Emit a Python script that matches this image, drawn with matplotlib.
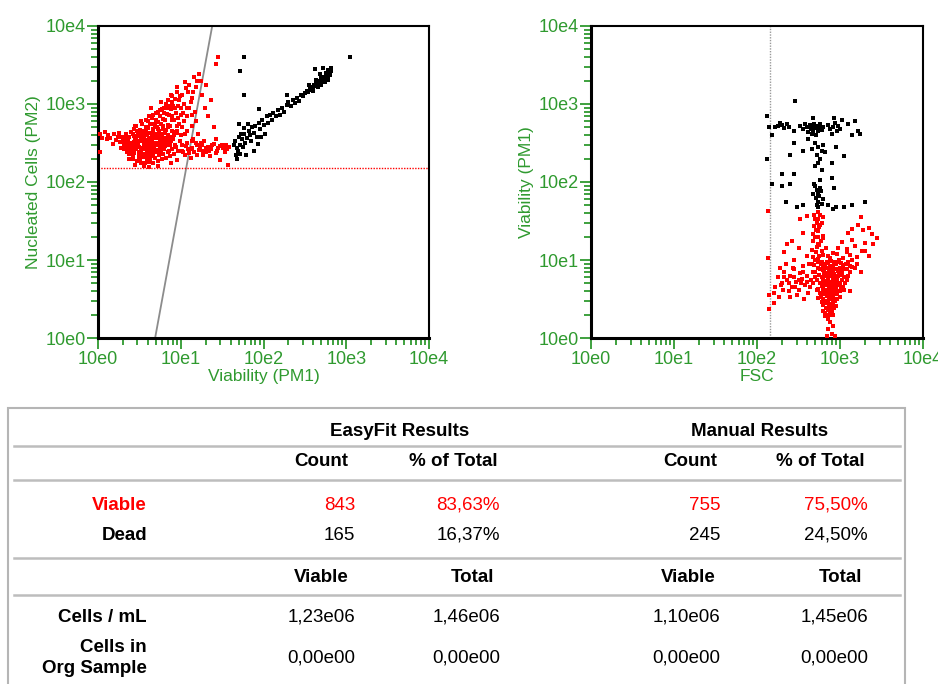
import numpy as np
import matplotlib
matplotlib.use("Agg")
import matplotlib.pyplot as plt
from matplotlib.ticker import LogLocator, NullFormatter
from matplotlib.patches import Rectangle
from matplotlib.lines import Line2D

plt.rcParams['font.family'] = ['Liberation Sans', 'DejaVu Sans']

GREEN = '#2f9a2f'
RED = '#ff0000'

# events are stored as log10 of the channel values: (PM1, PM2) for the first plot
left_viable = [
    (0.02, 2.62), (0.05, 2.57), (0.08, 2.64), (0.12, 2.60), (0.15, 2.56), (0.19, 2.61), (0.22, 2.54),
    (0.25, 2.63), (0.27, 2.51), (0.03, 2.38), (0.18, 2.49), (0.28, 2.44), (0.24, 2.58), (0.11, 2.55),
    (0.31, 2.42), (0.33, 2.50), (0.30, 2.56), (0.34, 2.61), (0.32, 2.47), (0.35, 2.39), (0.31, 2.53),
    (0.37, 2.36), (0.39, 2.44), (0.36, 2.52), (0.38, 2.58), (0.40, 2.64), (0.37, 2.49), (0.39, 2.41),
    (0.36, 2.55), (0.38, 2.30), (0.42, 2.33), (0.44, 2.40), (0.41, 2.46), (0.43, 2.51), (0.45, 2.57),
    (0.42, 2.62), (0.44, 2.68), (0.41, 2.44), (0.43, 2.37), (0.45, 2.54), (0.42, 2.29), (0.47, 2.27),
    (0.49, 2.35), (0.46, 2.42), (0.48, 2.48), (0.50, 2.53), (0.47, 2.59), (0.49, 2.65), (0.46, 2.72),
    (0.48, 2.45), (0.50, 2.39), (0.46, 2.56), (0.49, 2.31), (0.52, 2.25), (0.54, 2.32), (0.51, 2.38),
    (0.53, 2.44), (0.55, 2.50), (0.52, 2.55), (0.54, 2.61), (0.51, 2.67), (0.53, 2.74), (0.55, 2.47),
    (0.52, 2.41), (0.54, 2.58), (0.51, 2.29), (0.53, 2.36), (0.57, 2.24), (0.59, 2.30), (0.56, 2.36),
    (0.58, 2.43), (0.60, 2.49), (0.57, 2.54), (0.59, 2.60), (0.56, 2.66), (0.58, 2.71), (0.60, 2.78),
    (0.57, 2.46), (0.59, 2.39), (0.56, 2.57), (0.58, 2.33), (0.62, 2.26), (0.64, 2.33), (0.61, 2.40),
    (0.63, 2.45), (0.65, 2.51), (0.62, 2.57), (0.64, 2.63), (0.61, 2.69), (0.63, 2.75), (0.65, 2.82),
    (0.62, 2.48), (0.64, 2.37), (0.61, 2.54), (0.63, 2.29), (0.65, 2.60), (0.67, 2.25), (0.69, 2.31),
    (0.66, 2.38), (0.68, 2.44), (0.70, 2.50), (0.67, 2.56), (0.69, 2.62), (0.66, 2.68), (0.68, 2.74),
    (0.70, 2.80), (0.67, 2.86), (0.69, 2.47), (0.66, 2.35), (0.68, 2.59), (0.72, 2.27), (0.74, 2.34),
    (0.71, 2.41), (0.73, 2.47), (0.75, 2.53), (0.72, 2.59), (0.74, 2.65), (0.71, 2.71), (0.73, 2.77),
    (0.75, 2.84), (0.72, 2.90), (0.74, 2.50), (0.71, 2.38), (0.73, 2.62), (0.77, 2.29), (0.79, 2.36),
    (0.76, 2.43), (0.78, 2.49), (0.80, 2.56), (0.77, 2.62), (0.79, 2.68), (0.76, 2.75), (0.78, 2.81),
    (0.80, 2.88), (0.77, 2.94), (0.79, 2.52), (0.76, 2.40), (0.82, 2.31), (0.84, 2.39), (0.81, 2.46),
    (0.83, 2.53), (0.85, 2.60), (0.82, 2.67), (0.84, 2.73), (0.81, 2.80), (0.83, 2.87), (0.85, 2.95),
    (0.82, 3.00), (0.84, 2.56), (0.87, 2.33), (0.89, 2.42), (0.86, 2.50), (0.88, 2.58), (0.90, 2.65),
    (0.87, 2.72), (0.89, 2.79), (0.86, 2.86), (0.88, 2.93), (0.90, 3.02), (0.87, 2.47), (0.92, 2.36),
    (0.94, 2.45), (0.91, 2.55), (0.93, 2.64), (0.95, 2.72), (0.92, 2.80), (0.94, 2.88), (0.91, 2.97),
    (0.93, 3.06), (0.97, 2.40), (0.99, 2.52), (0.96, 2.63), (0.98, 2.75), (1.00, 2.86), (0.97, 2.98),
    (0.99, 3.10), (1.03, 2.38), (1.07, 2.50), (1.02, 2.70), (1.08, 2.85), (1.04, 3.00), (1.09, 3.15),
    (1.05, 2.62), (1.12, 2.42), (1.17, 2.90), (1.13, 3.08), (1.18, 3.22), (1.15, 2.55), (1.19, 2.78),
    (1.23, 2.45), (1.27, 2.35), (1.24, 3.30), (1.29, 2.95), (1.26, 3.12), (1.22, 3.38), (1.30, 3.25),
    (1.36, 3.05), (1.45, 3.60), (1.43, 3.51), (1.33, 2.85), (1.40, 2.70), (1.16, 3.35), (1.05, 3.28),
    (0.88, 3.12), (0.76, 3.02), (0.64, 2.95), (1.02, 2.40), (1.06, 2.46), (1.10, 2.37), (1.14, 2.44),
    (1.18, 2.50), (1.22, 2.41), (1.26, 2.47), (1.30, 2.38), (1.33, 2.45), (1.37, 2.42), (1.40, 2.49),
    (1.44, 2.40), (1.47, 2.46), (1.51, 2.43), (1.55, 2.48), (1.58, 2.45), (1.35, 2.33), (1.48, 2.28),
    (1.57, 2.22), (1.28, 2.52), (1.12, 2.31), (0.96, 2.28), (0.88, 2.25), (0.72, 2.20), (0.55, 2.21),
    (0.45, 2.22), (0.62, 2.19), (1.42, 2.55), (1.53, 2.38), (1.20, 2.34),
    (0.33, 2.45), (0.35, 2.58), (0.40, 2.50), (0.43, 2.59), (0.47, 2.50), (0.48, 2.62), (0.50, 2.45),
    (0.51, 2.60), (0.55, 2.42), (0.56, 2.52), (0.59, 2.48), (0.60, 2.63), (0.61, 2.35), (0.64, 2.55),
    (0.66, 2.46), (0.67, 2.65), (0.70, 2.40), (0.71, 2.56), (0.73, 2.68), (0.75, 2.45), (0.76, 2.58),
    (0.78, 2.72), (0.80, 2.42), (0.81, 2.63), (0.83, 2.48), (0.85, 2.70), (0.86, 2.40), (0.88, 2.53),
    (0.90, 2.85), (0.92, 2.60), (0.93, 2.48), (0.95, 2.66), (0.97, 2.82), (1.00, 2.60), (1.01, 2.47),
    (1.04, 2.78), (1.08, 2.66), (1.10, 2.95), (1.13, 2.72), (1.21, 2.62), (0.47, 2.66), (0.44, 2.48),
    (0.58, 2.66), (0.69, 2.72), (0.79, 2.46), (0.63, 2.42), (0.53, 2.52), (0.40, 2.36), (0.34, 2.43),
    (0.29, 2.58),
    (0.85, 3.05), (0.90, 3.10), (0.95, 3.15), (0.98, 3.05), (1.02, 3.12), (1.06, 3.20), (1.10, 3.25),
    (1.12, 3.02), (1.15, 3.15), (1.08, 2.95), (0.93, 2.95), (0.80, 2.95), (0.75, 2.92), (0.70, 2.88),
    (0.96, 3.22), (1.00, 2.95), (1.03, 2.88), (1.20, 3.30), (1.14, 2.86), (0.87, 2.98), (0.62, 2.85),
    (0.58, 2.80), (0.52, 2.78), (0.45, 2.72), (1.05, 2.35), (1.09, 2.42), (1.16, 2.38), (1.24, 2.50),
    (1.31, 2.43), (1.38, 2.47), (1.45, 2.44), (1.50, 2.48), (1.56, 2.42), (1.34, 2.40), (1.42, 2.37),
    (1.20, 2.47), (1.13, 2.52), (1.27, 2.40),
]

left_dead = [
    (1.66, 2.52), (1.68, 2.44), (1.70, 2.58), (1.72, 2.48), (1.74, 2.55), (1.69, 2.40), (1.76, 2.62),
    (1.78, 2.50), (1.80, 2.57), (1.82, 2.66), (1.75, 2.45), (1.84, 2.60), (1.86, 2.70), (1.88, 2.63),
    (1.90, 2.72), (1.92, 2.58), (1.94, 2.76), (1.96, 2.68), (1.98, 2.80), (2.00, 2.73), (2.02, 2.62),
    (2.04, 2.84), (2.06, 2.76), (1.71, 2.36), (1.67, 2.35), (1.79, 2.34), (1.89, 2.40), (1.93, 2.49),
    (1.85, 2.52), (1.73, 2.62), (1.77, 2.69), (1.97, 2.58), (2.08, 2.86), (2.10, 2.80), (1.95, 2.93),
    (1.81, 2.75), (1.64, 2.47), (1.68, 2.30), (2.12, 2.88), (2.15, 2.84), (2.18, 2.92), (2.22, 2.95),
    (2.25, 2.90), (2.28, 2.99), (2.30, 3.02), (2.33, 2.97), (2.36, 3.05), (2.40, 3.08), (2.43, 3.04),
    (2.45, 3.12), (2.48, 3.10), (2.20, 2.86), (2.38, 3.01), (2.28, 3.12), (2.50, 3.14), (2.52, 3.17),
    (2.54, 3.15), (2.56, 3.20), (2.57, 3.18), (2.58, 3.22), (2.60, 3.21), (2.61, 3.25), (2.62, 3.23),
    (2.63, 3.27), (2.64, 3.24), (2.65, 3.28), (2.66, 3.26), (2.67, 3.30), (2.68, 3.28), (2.69, 3.31),
    (2.70, 3.29), (2.71, 3.33), (2.72, 3.31), (2.73, 3.34), (2.74, 3.32), (2.75, 3.36), (2.76, 3.34),
    (2.77, 3.37), (2.78, 3.35), (2.79, 3.39), (2.80, 3.37), (2.60, 3.17), (2.66, 3.22), (2.70, 3.25),
    (2.74, 3.28), (2.78, 3.31), (2.55, 3.24), (2.63, 3.31), (2.69, 3.35), (2.75, 3.40), (2.82, 3.42),
    (2.81, 3.46), (2.78, 3.44), (2.72, 3.46), (2.68, 3.38), (1.76, 3.60), (3.05, 3.60), (1.71, 3.42),
    (1.76, 3.12), (1.70, 2.75), (2.62, 3.45),
]

# (FSC, PM1) for the second plot
right_viable = [
    (2.82, 0.32), (2.86, 0.36), (2.90, 0.34), (2.93, 0.38), (2.84, 0.39), (2.88, 0.31),
    (2.80, 0.42), (2.83, 0.47), (2.87, 0.44), (2.91, 0.49), (2.95, 0.41), (2.85, 0.48), (2.89, 0.43),
    (2.78, 0.46), (2.77, 0.52), (2.81, 0.57), (2.84, 0.54), (2.88, 0.59), (2.92, 0.51), (2.96, 0.56),
    (3.00, 0.53), (2.86, 0.58), (2.90, 0.55), (2.74, 0.51), (2.94, 0.59), (2.74, 0.63), (2.78, 0.67),
    (2.82, 0.61), (2.85, 0.69), (2.89, 0.64), (2.93, 0.62), (2.97, 0.68), (3.01, 0.65), (3.05, 0.61),
    (2.87, 0.66), (2.91, 0.69), (2.80, 0.64), (2.95, 0.67), (2.72, 0.74), (2.76, 0.71), (2.80, 0.77),
    (2.84, 0.73), (2.88, 0.79), (2.92, 0.72), (2.96, 0.76), (3.00, 0.71), (3.05, 0.78), (3.09, 0.74),
    (2.86, 0.75), (2.90, 0.71), (2.94, 0.79), (2.82, 0.73), (2.70, 0.84), (2.75, 0.81), (2.79, 0.87),
    (2.84, 0.83), (2.89, 0.89), (2.93, 0.82), (2.98, 0.86), (3.03, 0.81), (3.08, 0.88), (3.12, 0.84),
    (2.87, 0.85), (2.96, 0.89), (2.81, 0.81), (2.69, 0.93), (2.74, 0.97), (2.80, 0.91), (2.86, 0.96),
    (2.92, 0.92), (2.98, 0.98), (3.04, 0.93), (3.10, 0.97), (3.15, 0.91), (2.89, 0.99), (2.77, 0.95),
    (2.68, 1.04), (2.74, 1.01), (2.80, 1.07), (2.88, 1.03), (2.96, 1.08), (3.04, 1.02), (3.12, 1.06),
    (3.20, 1.04), (2.92, 1.09), (2.66, 1.13), (2.72, 1.17), (2.78, 1.12), (2.97, 1.16), (3.08, 1.14),
    (3.18, 1.18), (3.26, 1.12), (2.75, 1.19), (2.67, 1.24), (2.73, 1.21), (2.79, 1.28), (3.02, 1.23),
    (3.15, 1.26), (3.30, 1.22), (2.70, 1.29), (2.68, 1.33), (2.74, 1.37), (2.80, 1.31), (3.10, 1.35),
    (3.28, 1.38), (3.38, 1.33), (2.71, 1.39), (2.69, 1.44), (2.75, 1.42), (2.78, 1.48), (3.22, 1.45),
    (3.35, 1.41), (2.72, 1.47), (2.70, 1.53), (2.76, 1.58), (2.73, 1.61), (3.25, 1.55), (2.52, 1.52),
    (2.60, 1.57), (2.25, 0.78), (2.30, 0.70), (2.33, 0.85), (2.36, 0.74), (2.40, 0.80), (2.42, 0.66),
    (2.45, 0.88), (2.47, 0.72), (2.50, 0.62), (2.52, 0.83), (2.54, 0.76), (2.56, 0.92), (2.58, 0.68),
    (2.60, 0.80), (2.62, 0.58), (2.38, 0.60), (2.28, 0.90), (2.22, 0.66), (2.35, 0.95), (2.48, 0.55),
    (2.57, 0.50), (2.44, 1.00), (2.63, 0.95), (2.20, 0.58), (2.31, 0.62), (2.53, 0.70), (2.46, 0.65),
    (2.40, 0.52), (2.32, 1.10), (2.50, 1.15), (2.42, 1.25), (2.55, 1.35), (2.36, 1.20), (2.60, 1.05),
    (2.27, 0.52), (2.85, 0.25), (2.88, 0.20), (2.86, 0.12), (2.90, 0.05), (2.84, 0.02), (2.94, 0.03),
    (2.87, 0.30), (2.82, 0.28), (2.91, 0.16), (2.13, 1.63), (2.13, 1.02), (2.14, 0.55), (2.14, 0.37),
    (2.20, 0.45), (3.30, 1.12), (3.40, 1.20), (3.45, 1.28), (3.35, 1.05), (3.20, 0.95), (3.25, 0.85),
    (3.15, 1.40), (3.12, 0.60),
    (2.83, 0.45), (2.87, 0.52), (2.92, 0.45), (2.97, 0.60), (3.02, 0.75), (2.79, 0.60), (2.83, 0.68),
    (2.88, 0.72), (2.93, 0.56), (2.99, 0.82), (3.06, 0.70), (2.85, 0.90), (2.91, 0.85), (2.95, 0.95),
    (3.00, 0.90), (3.07, 0.95), (2.78, 0.78), (2.84, 0.62), (2.90, 0.65), (2.96, 0.72), (3.03, 0.86),
    (2.81, 0.85), (2.86, 0.80), (2.94, 0.88), (2.89, 0.50), (2.76, 0.88), (2.73, 0.90), (2.82, 0.95),
    (2.88, 0.40), (2.92, 0.30), (2.86, 0.28), (2.80, 0.35), (2.96, 0.50), (3.10, 0.80), (3.14, 1.00),
    (3.18, 0.90), (3.08, 1.10), (2.99, 1.00), (2.85, 1.05), (2.83, 1.15), (2.77, 1.25), (2.75, 1.05),
    (2.71, 1.10), (2.73, 1.30), (2.76, 1.45), (2.79, 1.55), (2.74, 1.52), (2.69, 1.58), (2.65, 0.75),
    (2.67, 0.85), (2.64, 0.65), (2.66, 0.95), (2.60, 0.72), (2.55, 0.85), (2.50, 0.75), (2.45, 0.78),
    (2.38, 0.70), (2.33, 0.78), (2.29, 0.68), (2.43, 0.90),
    (2.80, 0.50), (2.84, 0.58), (2.90, 0.60), (2.95, 0.63), (2.98, 0.70), (2.91, 0.77), (2.86, 0.70),
    (2.82, 0.80), (2.79, 0.72), (2.93, 0.98), (2.97, 0.80), (3.01, 0.96), (2.88, 0.92), (2.84, 0.98),
    (2.81, 0.90), (3.05, 0.88), (3.12, 0.92), (3.00, 0.60), (2.86, 0.46), (2.90, 0.40), (2.94, 0.48),
    (2.83, 0.38), (3.04, 0.66), (3.08, 0.78), (2.70, 0.78), (2.68, 0.70), (2.72, 0.62), (2.76, 0.58),
    (2.78, 0.98), (2.70, 1.00),
]

right_dead = [
    (2.12, 2.84), (2.22, 2.70), (2.25, 2.72), (2.30, 2.73), (2.33, 2.69), (2.36, 2.74), (2.38, 2.70),
    (2.28, 2.76), (2.45, 2.66), (2.52, 2.72), (2.55, 2.68), (2.58, 2.75), (2.60, 2.70), (2.62, 2.64),
    (2.64, 2.73), (2.65, 2.68), (2.66, 2.62), (2.67, 2.71), (2.68, 2.66), (2.69, 2.74), (2.70, 2.69),
    (2.71, 2.60), (2.72, 2.72), (2.73, 2.65), (2.75, 2.70), (2.76, 2.74), (2.78, 2.67), (2.80, 2.71),
    (2.85, 2.73), (2.88, 2.68), (2.90, 2.62), (2.92, 2.70), (2.94, 2.76), (2.96, 2.65), (2.97, 2.72),
    (3.00, 2.68), (3.10, 2.75), (3.14, 2.60), (3.18, 2.78), (3.22, 2.65), (3.02, 2.80), (2.15, 2.70),
    (2.68, 2.82), (2.46, 3.04), (2.93, 2.82), (2.18, 2.60), (2.70, 2.50), (2.74, 2.45), (2.78, 2.40),
    (2.72, 2.35), (2.76, 2.30), (2.80, 2.48), (2.66, 2.42), (2.82, 2.38), (2.74, 2.25), (2.70, 2.20),
    (2.78, 2.15), (2.45, 2.50), (2.55, 2.40), (2.40, 2.35), (2.95, 2.45), (2.90, 2.25), (2.30, 2.10),
    (2.12, 2.30), (2.62, 2.55), (3.05, 2.33), (2.70, 1.95), (2.72, 1.90), (2.74, 1.85), (2.76, 1.92),
    (2.71, 1.80), (2.73, 1.75), (2.75, 1.82), (2.77, 1.88), (2.72, 1.70), (2.74, 1.68), (2.78, 1.72),
    (2.69, 1.98), (2.76, 2.02), (2.80, 1.78), (2.68, 1.85), (2.92, 1.65), (2.95, 1.68), (3.05, 1.68),
    (3.15, 1.70), (3.30, 1.74), (3.24, 2.62), (2.55, 1.70), (2.48, 1.68), (2.35, 1.75), (2.30, 1.95),
    (2.40, 1.98), (2.18, 1.98), (2.90, 2.05), (2.93, 1.92), (2.45, 2.10), (2.85, 1.70),
]

# gates
gate_x = [4.9, 24.0]
gate_y = [1.0, 1.0e4]
pm2_threshold = 150
fsc_threshold = 145

decades = [1, 10, 100, 1000, 10000]
decade_labels = ['10e0', '10e1', '10e2', '10e3', '10e4']

# results table
row_labels = ['Viable', 'Dead']
easyfit_counts = [843, 165]
manual_counts = [755, 245]
easyfit_conc = [1.23e6, 1.46e6]
manual_conc = [1.10e6, 1.45e6]
easyfit_org = [0.0, 0.0]
manual_org = [0.0, 0.0]

TABLE_FS = 13.5


def sci_comma(v):
    mant, exp = f"{v:.2e}".split('e')
    return f"{mant.replace('.', ',')}e{int(exp):02d}"


def pct_comma(n, total):
    return f"{100.0 * n / total:.2f}%".replace('.', ',')


def style_axes(ax, xlabel, ylabel):
    ax.set_xscale('log')
    ax.set_yscale('log')
    ax.set_xlim(1, 1e4)
    ax.set_ylim(1, 1e4)
    ax.set_xticks(decades)
    ax.set_xticklabels(decade_labels)
    ax.set_yticks(decades)
    ax.set_yticklabels(decade_labels)
    for axis in (ax.xaxis, ax.yaxis):
        axis.set_minor_locator(LogLocator(base=10, subs=range(2, 10)))
        axis.set_minor_formatter(NullFormatter())
    ax.tick_params(which='major', direction='out', length=8, width=1.3,
                   color=GREEN, labelcolor=GREEN, labelsize=13, pad=1)
    ax.tick_params(which='minor', direction='out', length=5, width=1.3, color=GREEN)
    for side in ('left', 'bottom'):
        ax.spines[side].set_linewidth(2.2)
    for side in ('top', 'right'):
        ax.spines[side].set_linewidth(1.5)
    ax.set_xlabel(xlabel, color=GREEN, fontsize=12.5, labelpad=1)
    ax.set_ylabel(ylabel, color=GREEN, fontsize=12.5, labelpad=3)


fig = plt.figure(figsize=(9.38, 6.84), dpi=100)
W, H = 938.0, 684.0

lv = 10 ** np.array(left_viable)
ld = 10 ** np.array(left_dead)
rv = 10 ** np.array(right_viable)
rd = 10 ** np.array(right_dead)

ax1 = fig.add_axes([98 / W, 1 - 338 / H, 331 / W, 312 / H])
ax1.scatter(lv[:, 0], lv[:, 1], s=11, marker='s', color=RED, linewidths=0, zorder=3)
ax1.scatter(ld[:, 0], ld[:, 1], s=9, marker='s', color='black', linewidths=0, zorder=3)
ax1.plot(gate_x, gate_y, color='#8c8c8c', lw=1.3, zorder=2)
ax1.axhline(pm2_threshold, color=RED, lw=1, ls=(0, (1, 1)), zorder=2)
style_axes(ax1, 'Viability (PM1)', 'Nucleated Cells (PM2)')

ax2 = fig.add_axes([591 / W, 1 - 338 / H, 332 / W, 312 / H])
ax2.scatter(rv[:, 0], rv[:, 1], s=11, marker='s', color=RED, linewidths=0, zorder=3)
ax2.scatter(rd[:, 0], rd[:, 1], s=9, marker='s', color='black', linewidths=0, zorder=3)
ax2.axvline(fsc_threshold, color='#9a9a9a', lw=1, ls=(0, (1, 1)), zorder=2)
style_axes(ax2, 'FSC', 'Viability (PM1)')


# table drawn in pixel positions of the figure
def px(x, y):
    return x / W, 1 - y / H


def put(x, y, s, ha='center', bold=False, color='black', **kw):
    fig.text(*px(x, y), s, ha=ha, va='center', fontsize=TABLE_FS, color=color,
             fontweight='bold' if bold else 'normal', **kw)


fig.patches.append(Rectangle(px(8, 700), 897 / W, 292 / H, transform=fig.transFigure,
                             fill=False, edgecolor='#b5b5b5', lw=1.5))
for yy in (446, 480, 558, 595):
    fig.lines.append(Line2D([14 / W, 900 / W], [1 - yy / H] * 2, transform=fig.transFigure,
                            color='#bdbdbd', lw=1.8))

put(400, 431, 'EasyFit Results', bold=True)
put(760, 431, 'Manual Results', bold=True)
for cx, lab in ((321, 'Count'), (453, '% of Total'), (690, 'Count'), (820, '% of Total')):
    put(cx, 462, lab, bold=True)

ef_total = sum(easyfit_counts)
mn_total = sum(manual_counts)
for i, (lab, yy) in enumerate(zip(row_labels, (505, 535))):
    c = RED if i == 0 else 'black'
    put(147, yy, lab, ha='right', bold=True, color=c)
    put(355, yy, str(easyfit_counts[i]), ha='right', color=c)
    put(500, yy, pct_comma(easyfit_counts[i], ef_total), ha='right', color=c)
    put(720, yy, str(manual_counts[i]), ha='right', color=c)
    put(868, yy, pct_comma(manual_counts[i], mn_total), ha='right', color=c)

for cx, lab in ((321, 'Viable'), (472, 'Total'), (688, 'Viable'), (840, 'Total')):
    put(cx, 577, lab, bold=True)

put(147, 617, 'Cells / mL', ha='right', bold=True)
put(147, 658, 'Cells in\nOrg Sample', ha='right', bold=True, multialignment='right', linespacing=1.25)
for yy, ef, mn in ((617, easyfit_conc, manual_conc), (658, easyfit_org, manual_org)):
    put(355, yy, sci_comma(ef[0]), ha='right')
    put(500, yy, sci_comma(ef[1]), ha='right')
    put(720, yy, sci_comma(mn[0]), ha='right')
    put(868, yy, sci_comma(mn[1]), ha='right')

fig.savefig('out.png', dpi=100)
